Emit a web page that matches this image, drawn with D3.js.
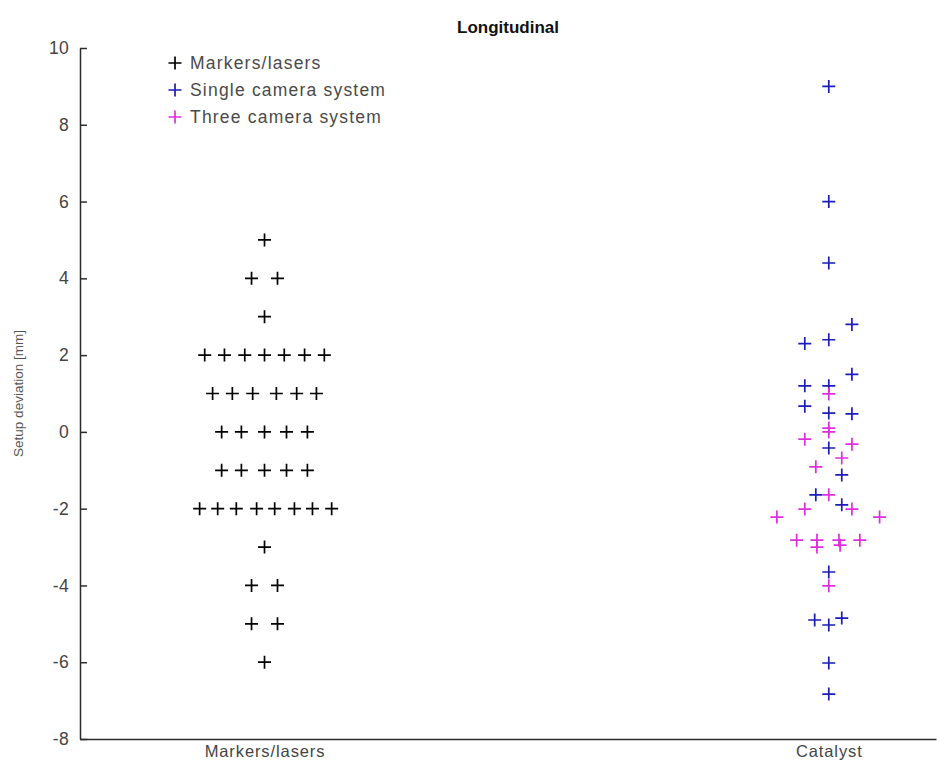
<!DOCTYPE html>
<html>
<head>
<meta charset="utf-8">
<script src="https://cdn.jsdelivr.net/npm/d3@7"></script>
<style>
  html, body { margin: 0; padding: 0; background: #fff; }
  svg { display: block; font-family: "Liberation Sans", Arial, Helvetica, sans-serif; }
</style>
</head>
<body>
<svg id="chart" width="937" height="764"></svg>
<script>
// Setup deviation per patient, grouped by positioning method
const categories = ["Markers/lasers", "Catalyst"];
const seriesNames = ["Markers/lasers", "Single camera system", "Three camera system"];
const seriesColors = ["#000000", "#1c1cb8", "#dd2edd"];
const yTicks = [-8, -6, -4, -2, 0, 2, 4, 6, 8, 10];

// Markers/lasers group (category 1): values in mm and horizontal spread offsets
const markersValues = [
  5,
  4, 4,
  3,
  2, 2, 2, 2, 2, 2, 2,
  1, 1, 1, 1, 1, 1,
  0, 0, 0, 0, 0,
  -1, -1, -1, -1, -1,
  -2, -2, -2, -2, -2, -2, -2, -2,
  -3,
  -4, -4,
  -5, -5,
  -6
];
const markersJitter = [
  0,
  -0.023, 0.023,
  0,
  -0.106, -0.071, -0.035, 0, 0.035, 0.071, 0.106,
  -0.092, -0.057, -0.021, 0.021, 0.057, 0.092,
  -0.076, -0.041, 0, 0.039, 0.076,
  -0.076, -0.041, 0, 0.039, 0.076,
  -0.115, -0.083, -0.050, -0.014, 0.018, 0.053, 0.085, 0.119,
  0,
  -0.023, 0.023,
  -0.023, 0.023,
  0
];

// Catalyst group (category 2), single camera system
const singleValues = [9.0, 6.0, 4.4, 2.3, 2.4, 2.8, 1.5, 1.2, 1.2, 0.67, 0.49, 0.47,
  -0.42, -1.12, -1.64, -1.9, -3.65, -4.9, -5.03, -4.85, -6.02, -6.83];
const singleJitter = [0, 0, 0, -0.0425, 0, 0.041, 0.041, -0.0425, 0, -0.0425, 0, 0.041,
  0, 0.023, -0.023, 0.023, 0, -0.025, 0, 0.023, 0, 0];

// Catalyst group (category 2), three camera system
const threeValues = [0.99, 0.1, 0.0, -0.19, -0.32, -0.68, -0.91, -1.64, -2.01, -2.01,
  -2.22, -2.22, -2.82, -2.82, -3.0, -2.82, -2.95, -2.82, -4.01];
const threeJitter = [0, 0, 0, -0.0425, 0.041, 0.023, -0.023, 0, -0.0425, 0.041,
  -0.092, 0.090, -0.057, -0.021, -0.021, 0.018, 0.020, 0.055, 0];

const series = [
  { name: seriesNames[0], color: seriesColors[0], cat: 1, values: markersValues, jitter: markersJitter },
  { name: seriesNames[1], color: seriesColors[1], cat: 2, values: singleValues, jitter: singleJitter },
  { name: seriesNames[2], color: seriesColors[2], cat: 2, values: threeValues, jitter: threeJitter }
];

const svg = d3.select("#chart");
const plot = { left: 80, right: 936, top: 48, bottom: 739 };

const x = d3.scaleLinear().domain([0.673, 2.19]).range([plot.left, plot.right]);
const y = d3.scaleLinear().domain([-8, 10]).range([plot.bottom, plot.top]);

// Y axis with inward ticks; plain hyphen for negatives
const yAxis = svg.append("g")
  .attr("transform", `translate(${plot.left},0)`)
  .call(d3.axisLeft(y).tickValues(yTicks).tickFormat(d => String(d))
    .tickSizeInner(-7).tickSizeOuter(0).tickPadding(11));
yAxis.select(".domain").attr("stroke", "#2b2b2b").attr("stroke-width", 1.5);
yAxis.selectAll(".tick line").attr("stroke", "#2b2b2b").attr("stroke-width", 1.5);
yAxis.selectAll(".tick text")
  .attr("fill", "#444").attr("font-size", 17.5).attr("letter-spacing", 0.3);

// X axis with category labels
const xAxis = svg.append("g")
  .attr("transform", `translate(0,${plot.bottom})`)
  .call(d3.axisBottom(x).tickValues([1, 2]).tickSize(0).tickPadding(6)
    .tickFormat(d => categories[d - 1]));
xAxis.select(".domain").attr("stroke", "#2b2b2b").attr("stroke-width", 1.5);
xAxis.selectAll(".tick text").attr("fill", "#444").attr("font-size", 16.5)
  .attr("letter-spacing", 0.9);

// Title and y-axis label
svg.append("text")
  .attr("x", 508).attr("y", 33)
  .attr("text-anchor", "middle")
  .attr("font-size", 17)
  .attr("font-weight", "bold")
  .attr("fill", "#111")
  .text("Longitudinal");

svg.append("text")
  .attr("transform", `translate(23,${(plot.top + plot.bottom) / 2}) rotate(-90)`)
  .attr("text-anchor", "middle")
  .attr("font-size", 13.5)
  .attr("fill", "#555")
  .text("Setup deviation [mm]");

// Plus-shaped markers
const plusPath = "M-6.5,0H6.5M0,-6.5V6.5";
series.forEach(s => {
  svg.append("g")
    .selectAll("path")
    .data(s.values.map((v, i) => ({ v, j: s.jitter[i] })))
    .join("path")
    .attr("d", plusPath)
    .attr("transform", d => `translate(${x(s.cat + d.j)},${y(d.v)})`)
    .attr("fill", "none")
    .attr("stroke", s.color)
    .attr("stroke-width", 1.7);
});

// Legend
const legend = svg.append("g").attr("transform", "translate(175,63)");
series.forEach((s, i) => {
  const row = legend.append("g").attr("transform", `translate(0,${i * 27})`);
  row.append("path").attr("d", plusPath).attr("fill", "none")
    .attr("stroke", s.color).attr("stroke-width", 1.7);
  row.append("text")
    .attr("x", 15).attr("dy", "0.35em")
    .attr("font-size", 17.5)
    .attr("letter-spacing", 1.2)
    .attr("fill", "#4a4a4a")
    .text(s.name);
});
</script>
</body>
</html>
